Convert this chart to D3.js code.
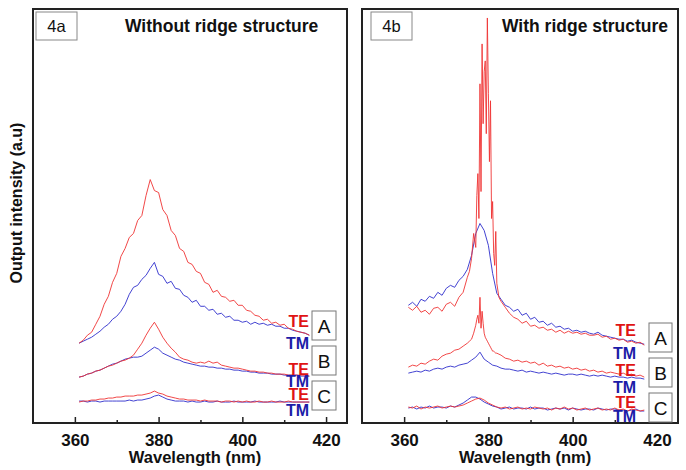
<!DOCTYPE html>
<html>
<head>
<meta charset="utf-8">
<script src="https://cdn.jsdelivr.net/npm/d3@7"></script>
<style>
  body { margin: 0; background: #fff; }
  svg { display: block; font-family: "Liberation Sans", Arial, sans-serif; }
</style>
</head>
<body>
<div class="chart"></div>
<script>
// wavelengths (nm)
const wl4a = [361,362,363,364,365,366,367,368,369,370,371,372,373,374,375,376,377,378,379,380,
  381,382,383,384,385,386,387,388,389,390,391,392,393,394,395,396,397,398,399,400,
  401,402,403,404,405,406,407,408,409,410,411,412,413,414,415,416];
const wl4b = [361,362,363,364,365,366,367,368,369,370,371,372,373,374,375,376,377,378,379,380,
  381,382,383,384,385,386,387,388,389,390,391,392,393,394,395,396,397,398,399,400,
  401,402,403,404,405,406,407,408,409,410,411,412,413,414,415,416,417];
const wl4bFine = [361,362,363,364,365,366,367,368,369,370,371,372,373,374,375,
  375.5,376,376.5,377,377.25,377.5,377.75,378,378.25,378.5,378.75,379,379.25,379.5,379.75,380,
  380.25,380.5,380.75,381,381.25,381.5,381.75,382,382.5,
  383,384,385,386,387,388,389,390,391,392,393,394,395,396,397,398,399,400,
  401,402,403,404,405,406,407,408,409,410,411,412,413,414,415,416,417];

// 4a: without ridge structure
const teA4a = [80,83,88,91,99,107,119,127,141,150,167,175,186,190,203,208,228,244,233,231,
  214,208,193,188,175,172,161,159,152,150,141,139,131,133,127,126,122,123,118,118,
  113,112,108,107,103,104,100,101,98,99,95,94,92,91,90,88];
const tmA4a = [80,82,84,86,89,92,96,99,104,107,112,119,129,136,138,144,148,155,161,149,
  147,140,142,135,134,128,126,121,123,117,117,113,114,109,110,106,107,103,103,101,
  102,99,101,99,100,98,99,97,97,95,95,93,92,91,90,88];
const teB4a = [46,47,49,50,52,53,55,57,58,60,62,63,65,68,74,80,88,95,101,94,
  86,80,75,71,66,64,63,61,60,61,60,62,60,61,58,57,56,55,55,54,
  53,52,52,51,51,50,50,49,49,49,48,48,48,48,48,47];
const tmB4a = [46,47,49,50,52,53,55,57,59,60,62,64,65,66,66,67,70,73,76,74,
  70,68,66,64,63,61,60,59,58,57,57,56,56,55,55,54,54,53,53,52,
  52,51,51,50,50,50,49,49,49,48,48,48,48,47,47,47];
const teC4a = [21,22,22,23,23,24,24,25,25,26,26,27,27,27,28,28,29,30,32,30,
  29,27,26,25,24,24,23,23,23,22,23,22,22,22,21,22,22,21,22,21,
  22,21,21,22,21,21,22,21,21,21,22,21,21,21,21,21];
const tmC4a = [22,22,21,22,22,21,22,22,22,22,22,22,23,22,23,23,24,25,27,28,
  26,24,23,22,22,22,21,22,21,21,22,21,21,22,21,21,21,22,21,21,
  21,21,22,21,21,21,21,21,22,21,21,21,21,21,21,21];

// 4b: with ridge structure
const teA4b = [116,113,117,111,113,109,115,116,112,119,121,117,126,131,146,
  152,165,190,176,228,250,205,340,232,380,300,352,363,290,406,330,
  262,323,205,222,170,158,192,140,126,
  122,116,110,106,104,100,102,97,98,95,96,93,94,91,93,90,92,90,
  91,89,90,88,88,89,86,87,84,85,83,84,81,82,80,81,78];
const tmA4b = [118,121,117,124,122,127,125,131,128,135,138,136,143,147,154,168,190,200,193,178,
  150,130,124,118,116,112,114,108,110,104,106,101,102,98,100,96,97,94,95,92,
  93,91,92,90,89,91,88,87,86,85,84,84,82,83,81,80,79];
const teB4b = [56,58,57,60,59,62,64,63,67,69,70,73,74,77,80,
  82,84,90,98,104,108,100,126,95,112,100,90,86,84,82,80,
  78,76,74,72,72,71,70,70,69,
  68,65,64,62,63,61,62,60,61,58,60,57,58,56,57,55,56,54,
  55,53,54,52,53,51,52,50,51,50,49,50,48,49,47,48,46];
const tmB4b = [50,51,52,51,53,52,54,55,54,56,57,56,58,59,60,63,66,71,64,61,
  58,57,55,54,54,53,52,53,51,52,51,50,51,50,49,50,49,48,49,49,
  48,49,48,47,48,47,48,47,46,47,46,46,45,46,45,45,44];
const teC4b = [16,15,17,14,16,15,16,17,15,16,17,16,17,18,20,22,24,25,23,20,
  18,16,15,16,14,15,16,14,15,14,16,15,14,15,13,15,14,16,14,15,
  13,14,15,13,14,15,13,14,13,15,13,14,12,14,13,12,13];
const tmC4b = [15,16,14,16,15,17,15,16,16,15,17,16,18,20,23,26,26,24,21,19,
  17,16,14,15,16,14,15,15,14,16,14,15,15,13,14,15,14,15,13,15,
  14,13,14,14,13,15,14,13,14,14,13,13,12,13,14,12,12];

const xTicks = [360, 380, 400, 420];
const xMinor = [370, 390, 410];
const curveNames = ["A", "B", "C"];
const modeNames = ["TE", "TM", "TE", "TM", "TE", "TM"];

const width = 686, height = 470;
const red = "#f03434", blue = "#2f2fcc";

const y = d3.scaleLinear().domain([0, 415]).range([423, 9]);

const panels = [
  {
    left: 33, right: 347, tag: "4a", title: "Without ridge structure",
    tagBox: [36, 12, 41, 28], titleX: 125,
    series: [
      {wl: wl4a, v: tmA4a, c: blue}, {wl: wl4a, v: teA4a, c: red},
      {wl: wl4a, v: tmB4a, c: blue}, {wl: wl4a, v: teB4a, c: red},
      {wl: wl4a, v: tmC4a, c: blue}, {wl: wl4a, v: teC4a, c: red}
    ],
    labelX: 309, labelY: [327, 349, 375, 387, 400, 416],
    boxX: 312, boxW: 24, boxY: [311, 346, 381], boxH: 29
  },
  {
    left: 362, right: 678, tag: "4b", title: "With ridge structure",
    tagBox: [371, 12, 41, 28], titleX: 502,
    series: [
      {wl: wl4b, v: tmA4b, c: blue}, {wl: wl4bFine, v: teA4b, c: red},
      {wl: wl4b, v: tmB4b, c: blue}, {wl: wl4bFine, v: teB4b, c: red},
      {wl: wl4b, v: tmC4b, c: blue}, {wl: wl4b, v: teC4b, c: red}
    ],
    labelX: 636, labelY: [336, 359, 376, 393, 408, 422],
    boxX: 649, boxW: 23, boxY: [323, 358, 393], boxH: 29
  }
];

const svg = d3.select(".chart").append("svg")
  .attr("width", width)
  .attr("height", height);

panels.forEach(p => {
  const x = d3.scaleLinear().domain([350, 425]).range([p.left, p.right]);
  const g = svg.append("g");

  const line = d3.line()
    .x(d => x(d[0]))
    .y(d => y(d[1]));

  g.append("g")
    .attr("fill", "none")
    .attr("stroke-width", 1)
    .selectAll("path")
    .data(p.series)
    .join("path")
    .attr("stroke", d => d.c)
    .attr("stroke-opacity", 0.9)
    .attr("d", d => line(d.wl.map((w, i) => [w, d.v[i]])));

  // bottom axis, ticks pointing inward
  g.append("g")
    .attr("transform", `translate(0,${y(0)})`)
    .call(d3.axisBottom(x).tickValues(xTicks).tickSizeInner(-6).tickSizeOuter(0).tickPadding(11))
    .call(a => a.select(".domain").remove())
    .call(a => a.selectAll(".tick line").attr("stroke", "#222").attr("stroke-width", 1.5))
    .call(a => a.selectAll("text")
      .attr("fill", "#111")
      .style("font-size", "17px")
      .style("font-weight", "bold")
      .style("font-family", "'Liberation Sans', Arial, sans-serif"));

  g.append("g")
    .attr("transform", `translate(0,${y(0)})`)
    .call(d3.axisBottom(x).tickValues(xMinor).tickSizeInner(-3).tickSizeOuter(0).tickFormat(""))
    .call(a => a.select(".domain").remove())
    .call(a => a.selectAll(".tick line").attr("stroke", "#222").attr("stroke-width", 1.5));

  g.append("text")
    .attr("x", x(388.7))
    .attr("y", 463)
    .attr("text-anchor", "middle")
    .attr("fill", "#111")
    .style("font-size", "16.5px")
    .style("font-weight", "bold")
    .text("Wavelength (nm)");

  // frame
  g.append("rect")
    .attr("x", p.left)
    .attr("y", y(415))
    .attr("width", p.right - p.left)
    .attr("height", y(0) - y(415))
    .attr("fill", "none")
    .attr("stroke", "#222")
    .attr("stroke-width", 2);

  g.append("rect")
    .attr("x", p.tagBox[0]).attr("y", p.tagBox[1])
    .attr("width", p.tagBox[2]).attr("height", p.tagBox[3])
    .attr("fill", "#fff")
    .attr("stroke", "#888");

  g.append("text")
    .attr("x", p.tagBox[0] + p.tagBox[2] / 2)
    .attr("y", 32)
    .attr("text-anchor", "middle")
    .attr("fill", "#111")
    .style("font-size", "16.5px")
    .text(p.tag);

  g.append("text")
    .attr("x", p.titleX)
    .attr("y", 32)
    .attr("fill", "#111")
    .style("font-size", "17.5px")
    .style("font-weight", "bold")
    .text(p.title);

  g.append("g")
    .selectAll("text")
    .data(modeNames)
    .join("text")
    .attr("x", p.labelX)
    .attr("y", (d, i) => p.labelY[i])
    .attr("text-anchor", "end")
    .attr("fill", d => d === "TE" ? "#e01414" : "#1c1ca8")
    .style("font-size", "16px")
    .style("font-weight", "bold")
    .text(d => d);

  const boxes = g.append("g")
    .selectAll("g")
    .data(curveNames)
    .join("g");

  boxes.append("rect")
    .attr("x", p.boxX)
    .attr("y", (d, i) => p.boxY[i])
    .attr("width", p.boxW)
    .attr("height", p.boxH)
    .attr("fill", "#fff")
    .attr("stroke", "#777");

  boxes.append("text")
    .attr("x", p.boxX + p.boxW / 2)
    .attr("y", (d, i) => p.boxY[i] + p.boxH / 2 + 7)
    .attr("text-anchor", "middle")
    .attr("fill", "#111")
    .style("font-size", "19px")
    .text(d => d);
});

svg.append("text")
  .attr("transform", "translate(22,203) rotate(-90)")
  .attr("text-anchor", "middle")
  .attr("fill", "#111")
  .style("font-size", "16px")
  .style("font-weight", "bold")
  .text("Output intensity (a.u)");
</script>
</body>
</html>
